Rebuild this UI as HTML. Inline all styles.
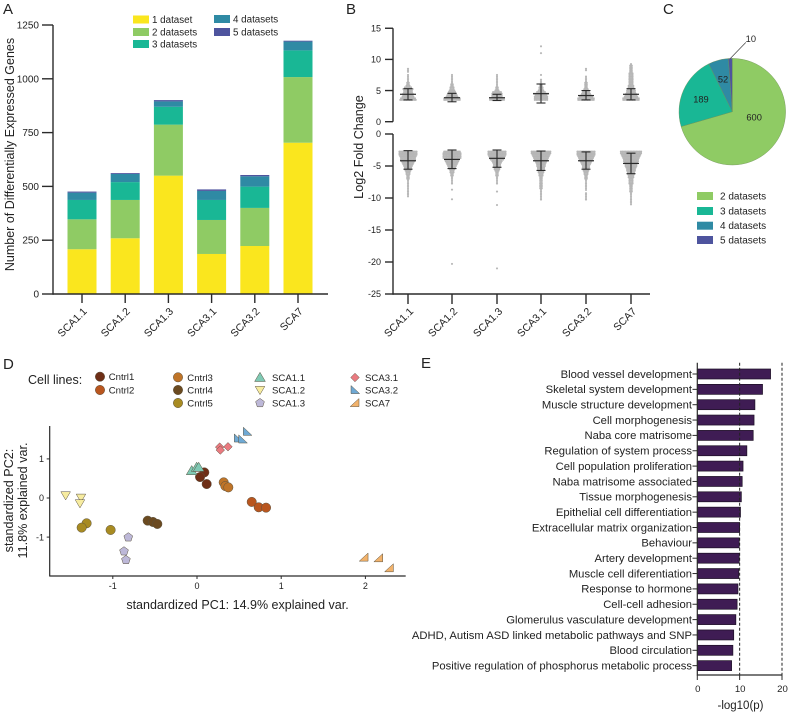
<!DOCTYPE html>
<html>
<head>
<meta charset="utf-8">
<style>
html,body{margin:0;padding:0;background:#fff;}
svg{display:block;}
text{font-family:"Liberation Sans",sans-serif;fill:#222;}
</style>
</head>
<body>
<svg id="fig" width="790" height="715" viewBox="0 0 790 715" xmlns="http://www.w3.org/2000/svg">
  <rect x="0" y="0" width="790" height="715" fill="#fff"/>
  <text x="3" y="14" font-size="15">A</text>
  <text x="346" y="14" font-size="15">B</text>
  <text x="663" y="14" font-size="15">C</text>
  <text x="3" y="369" font-size="15">D</text>
  <text x="421" y="368" font-size="15">E</text>
  <text transform="translate(14,154.5) rotate(-90)" text-anchor="middle" font-size="12.5">Number of Differentially Expressed Genes</text>
  <text transform="translate(363,147) rotate(-90)" text-anchor="middle" font-size="12.6">Log2 Fold Change</text>
  <text x="28" y="384" font-size="12.5">Cell lines:</text>
  <text x="237.5" y="609" text-anchor="middle" font-size="12.5">standardized PC1: 14.9% explained var.</text>
  <text transform="translate(13,500.5) rotate(-90)" text-anchor="middle" font-size="12.6">standardized PC2:</text>
  <text transform="translate(27,500.5) rotate(-90)" text-anchor="middle" font-size="12.6">11.8% explained var.</text>
  <text x="740.5" y="709" text-anchor="middle" font-size="11.5">-log10(p)</text>
  <g id="layer"></g>
</svg>
<script>
/* ---------- Panel A data ---------- */
const sampleNames = ['SCA1.1','SCA1.2','SCA1.3','SCA3.1','SCA3.2','SCA7'];
const datasetNames = ['1 dataset','2 datasets','3 datasets','4 datasets','5 datasets'];
const datasetColors = ['#fae61e','#8fcb64','#19b795','#2f8aa4','#4e549e'];
const oneDataset = [208,259,550,186,223,703];
const twoDatasets = [139,178,237,158,177,305];
const threeDatasets = [90,83,83,93,99,124];
const fourDatasets = [34,38,25,42,48,41];
const fiveDatasets = [5,4,6,7,6,4];
const countTicks = [0,250,500,750,1000,1250];

/* ---------- Panel B data ---------- */
const upLevels = [3.5,3.75,4,4.25,4.5,4.75,5,5.25,5.5,5.75,6,6.25,6.5,6.75,7,7.25,7.5,7.75,8,8.25,8.5,8.75,9,9.25];
const downLevels = [-2.75,-3,-3.25,-3.5,-3.75,-4,-4.25,-4.5,-4.75,-5,-5.25,-5.5,-5.75,-6,-6.25,-6.5,-6.75,-7,-7.25,-7.5,-7.75,-8,-8.25,-8.5,-8.75,-9,-9.25,-9.5,-9.75,-10,-10.25,-10.5,-10.75,-11];
const upCounts11 = [11,10,8,7,7,6,6,7,5,3,2,2,1,1,1,1,1,0,1,1,1];
const upCounts12 = [11,11,8,7,6,5,4,3,3,2,2,1,1,1,1,1,1];
const upCounts13 = [10,10,7,7,7,6,3,2,2,1,1,1,1,1,1,1,1];
const upCounts31 = [9,9,9,8,10,6,4,3,3,2,2,1,1,1,0,0,1];
const upCounts32 = [11,11,9,7,6,5,4,3,2,2,2,2,1,1,1,1,0,0,0,1,1];
const upCounts7 = [11,11,9,8,7,6,6,5,4,4,3,3,3,3,3,3,3,3,2,2,2,2,2,1];
const downCounts11 = [12,12,12,11,10,10,9,8,7,6,5,5,4,3,3,2,2,2,1,1,1,1,1,1,1,1,1,1,1];
const downCounts12 = [11,12,12,12,12,10,9,8,7,6,5,4,3,3,2,2,1,1,1,1,1];
const downCounts13 = [12,12,12,11,10,9,7,6,5,5,4,4,3,2,2,2,1,1,1,1,1];
const downCounts31 = [13,13,12,11,10,9,8,7,6,6,5,5,4,4,3,3,2,2,2,2,2,2,2,2,1,1,1,1,1,1,1];
const downCounts32 = [12,12,12,11,10,9,8,7,6,5,5,4,4,3,3,2,2,2,1,1,1,1,1,1,1,0,1,1,1,1,1];
const downCounts7 = [14,14,13,12,11,10,10,9,8,8,7,6,6,5,5,4,4,3,3,3,3,2,2,2,2,2,1,1,1,1,1,1,1,1];
const upOutliers = [[],[],[],[11,12.1],[],[]];
const downOutliers = [[],[-8.7,-10.2,-20.3],[-9,-11.1,-21],[],[],[]];
const upMeans = [4.4,3.85,3.85,4.5,4.2,4.4];
const upHighs = [5.3,4.55,4.4,6.05,5,5.3];
const upLows = [3.5,3.2,3.4,3,3.5,3.5];
const downMeans = [-4.18,-3.97,-3.8,-4.18,-4.18,-4.6];
const downHighs = [-2.6,-2.5,-2.5,-2.66,-2.8,-3];
const downLows = [-5.5,-5.4,-5.2,-5.7,-5.5,-6.2];
const foldUpTicks = [0,5,10,15];
const foldDownTicks = [0,-5,-10,-15,-20,-25];

/* ---------- Panel C data ---------- */
const pieValues = [600,189,52,10];
const pieNames = ['2 datasets','3 datasets','4 datasets','5 datasets'];
const pieColors = ['#8fcb64','#19b795','#2f8aa4','#4e549e'];

/* ---------- Panel D data ---------- */
const lineNames = ['Cntrl1','Cntrl2','Cntrl3','Cntrl4','Cntrl5','SCA1.1','SCA1.2','SCA1.3','SCA3.1','SCA3.2','SCA7'];
const lineColors = ['#6e2f17','#b9561f','#bf7428','#6b4a20','#a88b22','#7fc9b4','#f7eca0','#bdb8d8','#ea7a80','#6fa9d4','#f2b26b'];
const lineShapes = ['circle','circle','circle','circle','circle','up','down','pentagon','diamond','wedge','corner'];
const pc1Values = [
  [0.087,0.036,0.115],[0.65,0.733,0.82],[0.317,0.337,0.372],[-0.586,-0.523,-0.471],[-1.311,-1.37,-1.026],
  [-0.063,-0.004,0.02],[-1.56,-1.378,-1.39],[-0.816,-0.867,-0.844],[0.269,0.368,0.277],[0.598,0.491,0.543],[1.984,2.158,2.285]
];
const pc2Values = [
  [0.655,0.536,0.357],[-0.1,-0.238,-0.247],[0.4,0.306,0.272],[-0.579,-0.613,-0.664],[-0.647,-0.757,-0.817],
  [0.698,0.783,0.783],[0.068,0.008,-0.136],[-1.004,-1.362,-1.583],[1.302,1.311,1.226],[1.694,1.523,1.498],[-1.523,-1.54,-1.796]
];
const pc1Ticks = [-1,0,1,2];
const pc2Ticks = [-1,0,1];

/* ---------- Panel E data ---------- */
const termNames = ['Blood vessel development','Skeletal system development','Muscle structure development','Cell morphogenesis','Naba core matrisome','Regulation of system process','Cell population proliferation','Naba matrisome associated','Tissue morphogenesis','Epithelial cell differentiation','Extracellular matrix organization','Behaviour','Artery development','Muscle cell diferentiation','Response to hormone','Cell-cell adhesion','Glomerulus vasculature development','ADHD, Autism ASD linked metabolic pathways and SNP','Blood circulation','Positive regulation of phosphorus metabolic process'];
const termValues = [17.3,15.4,13.6,13.4,13.2,11.7,10.8,10.6,10.4,10.2,10,9.9,9.9,9.8,9.6,9.4,9.1,8.6,8.4,8.1];
const logPTicks = [0,10,20];
const logPThresholds = [10,20];

/* ---------- helpers ---------- */
const NS = 'http://www.w3.org/2000/svg';
const layer = document.getElementById('layer');
const INK = '#2a2a2a';
function shape(tag, props){
  const el = document.createElementNS(NS, tag);
  for (const k in props) el.setAttribute(k, props[k]);
  layer.appendChild(el);
  return el;
}
function axisLine(name, x1, y1, x2, y2, w){
  const el = shape('line',{x1,y1,x2,y2,stroke:INK,'stroke-width':w||1.4});
  
  
  return el;
}
function label(name, str, x, y, size, anchor, rot){
  const el = shape('text',{x,y,'font-size':size,'text-anchor':anchor||'start'});
  if (rot) el.setAttribute('transform','rotate('+rot+' '+x+' '+y+')');
  el.textContent = str;
  
  
  return el;
}

/* ---------- Panel A ---------- */
const aX = i => 82 + i*43.2;
const aY = v => 294 - v*269/1250;
const aSeries = [oneDataset,twoDatasets,threeDatasets,fourDatasets,fiveDatasets];
sampleNames.forEach((s,i)=>{
  let base = 0;
  aSeries.forEach((series,k)=>{
    const top = base + series[i];
    const r = shape('rect',{x:aX(i)-14.5,y:aY(top),width:29,height:aY(base)-aY(top),fill:datasetColors[k]});
    
    
    base = top;
  });
  axisLine('panel-a-x-tick', aX(i),294,aX(i),303);
  label('panel-a-x-tick-label', s, aX(i)+5.5, 312, 10.5, 'end', -45);
});
axisLine('panel-a-y-axis',53,25,53,294.7);
axisLine('panel-a-x-axis',53,294,328,294);
countTicks.forEach(t=>{
  axisLine('panel-a-y-tick',42,aY(t),53,aY(t));
  label('panel-a-y-tick-label', t, 39, aY(t)+3.5, 10, 'end');
});
const aLegendX = [133,133,133,214,214];
const aLegendY = [19.5,32,44,19,32];
datasetNames.forEach((n,k)=>{
  const r = shape('rect',{x:aLegendX[k],y:aLegendY[k]-4,width:16,height:8,fill:datasetColors[k]});
  
  
  label('legend-entry-'+(k+1), n, aLegendX[k]+19, aLegendY[k]+3.5, 9.8);
});

/* ---------- Panel B ---------- */
const bX = [408,452,497,541,586,631];
const bUp = v => 121.7 - v*6.23;
const bDown = v => 134 - v*6.4;
const upCounts = [upCounts11,upCounts12,upCounts13,upCounts31,upCounts32,upCounts7];
const downCounts = [downCounts11,downCounts12,downCounts13,downCounts31,downCounts32,downCounts7];
function dot(cx,cy,name){
  const c = shape('circle',{cx,cy,r:1.05,fill:'#b6b6b6'});
  
  
}
function swarm(cx, levels, counts, yFn, name){
  counts.forEach((n,i)=>{
    for (let j=0;j<n;j++) dot(cx+(j-(n-1)/2)*1.55, yFn(levels[i]), name);
  });
}
function errorBar(cx, mean, hi, lo, yFn, s){
  axisLine('error-bar-stem-'+s,cx,yFn(hi),cx,yFn(lo),1.1);
  axisLine('error-bar-high-cap-'+s,cx-4.5,yFn(hi),cx+4.5,yFn(hi),1.1);
  axisLine('error-bar-low-cap-'+s,cx-4.5,yFn(lo),cx+4.5,yFn(lo),1.1);
  axisLine('mean-line-'+s,cx-8,yFn(mean),cx+8,yFn(mean),1.2);
}
sampleNames.forEach((s,i)=>{
  swarm(bX[i],upLevels,upCounts[i],bUp,'up-point-'+s);
  swarm(bX[i],downLevels,downCounts[i],bDown,'down-point-'+s);
  upOutliers[i].forEach(v=>dot(bX[i],bUp(v),'up-outlier-'+s));
  downOutliers[i].forEach(v=>dot(bX[i],bDown(v),'down-outlier-'+s));
  errorBar(bX[i],upMeans[i],upHighs[i],upLows[i],bUp,s);
  errorBar(bX[i],downMeans[i],downHighs[i],downLows[i],bDown,s);
  axisLine('panel-b-x-tick',bX[i],294,bX[i],304);
  label('panel-b-x-tick-label', s, bX[i]+6, 312, 10.5, 'end', -45);
});
axisLine('panel-b-upper-y-axis',393,bUp(15),393,bUp(0));
axisLine('panel-b-lower-y-axis',393,bDown(0),393,294.7);
axisLine('panel-b-x-axis',393,294,650,294);
foldUpTicks.forEach(t=>{
  axisLine('panel-b-upper-y-tick',385,bUp(t),393,bUp(t));
  label('panel-b-upper-y-tick-label', t, 381, bUp(t)+3.2, 9, 'end');
});
foldDownTicks.forEach(t=>{
  axisLine('panel-b-lower-y-tick',385,bDown(t),393,bDown(t));
  label('panel-b-lower-y-tick-label', t, 381, bDown(t)+3.2, 9, 'end');
});

/* ---------- Panel C ---------- */
const pieCx = 732.3, pieCy = 111.7, pieR = 53.3;
const pieTotal = pieValues.reduce((a,b)=>a+b,0);
const piePoint = (a,r) => [pieCx + r*Math.sin(a), pieCy - r*Math.cos(a)];
const pieLabelRadius = [22.5,33.8,34];
const pieLabelShift = [-0.40,-0.03,-0.01];
let pieStart = 0;
pieValues.forEach((v,i)=>{
  const sweep = v/pieTotal*2*Math.PI;
  const end = pieStart + sweep;
  const p0 = piePoint(pieStart,pieR), p1 = piePoint(end,pieR);
  const d = 'M'+pieCx+' '+pieCy+'L'+p0[0]+' '+p0[1]+'A'+pieR+' '+pieR+' 0 '+(sweep>Math.PI?1:0)+' 1 '+p1[0]+' '+p1[1]+'Z';
  const sl = shape('path',{d,fill:pieColors[i],stroke:'#6d8f55','stroke-width':0.4});
  
  
  const mid = pieStart + sweep/2;
  if (i < 3){
    const lp = piePoint(mid + pieLabelShift[i], pieLabelRadius[i]);
    label('pie-value-label', v, lp[0], lp[1]+3.3, 9.3, 'middle');
  } else {
    const a = piePoint(mid,pieR);
    const lead = shape('line',{x1:a[0],y1:a[1],x2:a[0]+15.5,y2:a[1]-16,stroke:INK,'stroke-width':0.7});
    
    
    label('pie-value-label', v, a[0]+20.5, a[1]-16.5, 9.3, 'middle');
  }
  pieStart = end;
});
const pieLegendY = [196,211,225.7,240];
pieNames.forEach((n,i)=>{
  const r = shape('rect',{x:697,y:pieLegendY[i]-4,width:16,height:8,fill:pieColors[i]});
  
  
  label('pie-legend-entry', n, 720, pieLegendY[i]+3.5, 10);
});

/* ---------- Panel D ---------- */
const dX = v => 197 + v*84.2;
const dY = v => 498 - v*39.1;
function marker(kind, x, y, fill, name){
  const r = 4.7;
  let el;
  if (kind === 'circle'){
    el = shape('circle',{cx:x,cy:y,r});
  } else {
    let pts;
    if (kind === 'up') pts = [[0,-5.2],[5.4,4],[-5.4,4]];
    else if (kind === 'down') pts = [[0,4.6],[-4.8,-3.6],[4.8,-3.6]];
    else if (kind === 'diamond') pts = [[0,-4.3],[4.3,0],[0,4.3],[-4.3,0]];
    else if (kind === 'wedge') pts = [[-4,-4.5],[4.6,3.6],[-4,3.6]];
    else if (kind === 'corner') pts = [[4,-4.5],[4,3.6],[-4.8,3.6]];
    else pts = [[0,-4.6],[4.4,-1.4],[2.7,3.8],[-2.7,3.8],[-4.4,-1.4]];
    el = shape('polygon',{points:pts.map(p=>(x+p[0])+','+(y+p[1])).join(' ')});
  }
  el.setAttribute('fill', fill);
  el.setAttribute('stroke', '#5a5240');
  el.setAttribute('stroke-width', 0.5);
  
  
}
const dLegendX = [100,100,178,178,178,260,260,260,355,355,355];
const dLegendY = [376.7,390,377.3,390,403,377.5,390,403,377.5,390,403];
const dLegendTextX = [108.7,108.7,187.3,187.3,187.3,272,272,272,365,365,365];
lineNames.forEach((n,i)=>{
  marker(lineShapes[i], dLegendX[i], dLegendY[i], lineColors[i], 'legend-marker-'+n);
  label('legend-entry-'+n, n, dLegendTextX[i], dLegendY[i]+3.5, 9.6);
  pc1Values[i].forEach((v,j)=>{
    marker(lineShapes[i], dX(v), dY(pc2Values[i][j]), lineColors[i], 'point-'+n);
  });
});
axisLine('panel-d-y-axis',49.7,426,49.7,576.5,1.2);
axisLine('panel-d-x-axis',49.7,576,405.7,576,1.2);
pc1Ticks.forEach(t=>{
  axisLine('panel-d-x-tick',dX(t),576,dX(t),579,1);
  label('panel-d-x-tick-label', t, dX(t), 589, 9, 'middle');
});
pc2Ticks.forEach(t=>{
  axisLine('panel-d-y-tick',46.7,dY(t),49.7,dY(t),1);
  label('panel-d-y-tick-label', t, 44, dY(t)+3.2, 9, 'end');
});

/* ---------- Panel E ---------- */
const eX = v => 697.3 + v*4.235;
const eY = i => 374 + i*15.35;
termNames.forEach((n,i)=>{
  const r = shape('rect',{x:eX(0),y:eY(i)-5,width:eX(termValues[i])-eX(0),height:10,fill:'#3f1c54',stroke:'#1c1024','stroke-width':0.7});
  
  
  axisLine('panel-e-y-tick',692.5,eY(i),697.3,eY(i),1);
  label('panel-e-term-label', n, 692, eY(i)+3.8, 11.25, 'end');
});
logPThresholds.forEach(t=>{
  const l = shape('line',{x1:eX(t),y1:362.7,x2:eX(t),y2:675,stroke:'#222','stroke-width':1,'stroke-dasharray':'3 2'});
  
  
});
axisLine('panel-e-y-axis',697.3,362.7,697.3,675.5,1.2);
axisLine('panel-e-x-axis',697.3,675,782,675,1.2);
logPTicks.forEach(t=>{
  axisLine('panel-e-x-tick',eX(t),675,eX(t),680,1);
  label('panel-e-x-tick-label', t, eX(t)+0.5, 692, 9.6, 'middle');
});
</script>
</body>
</html>
